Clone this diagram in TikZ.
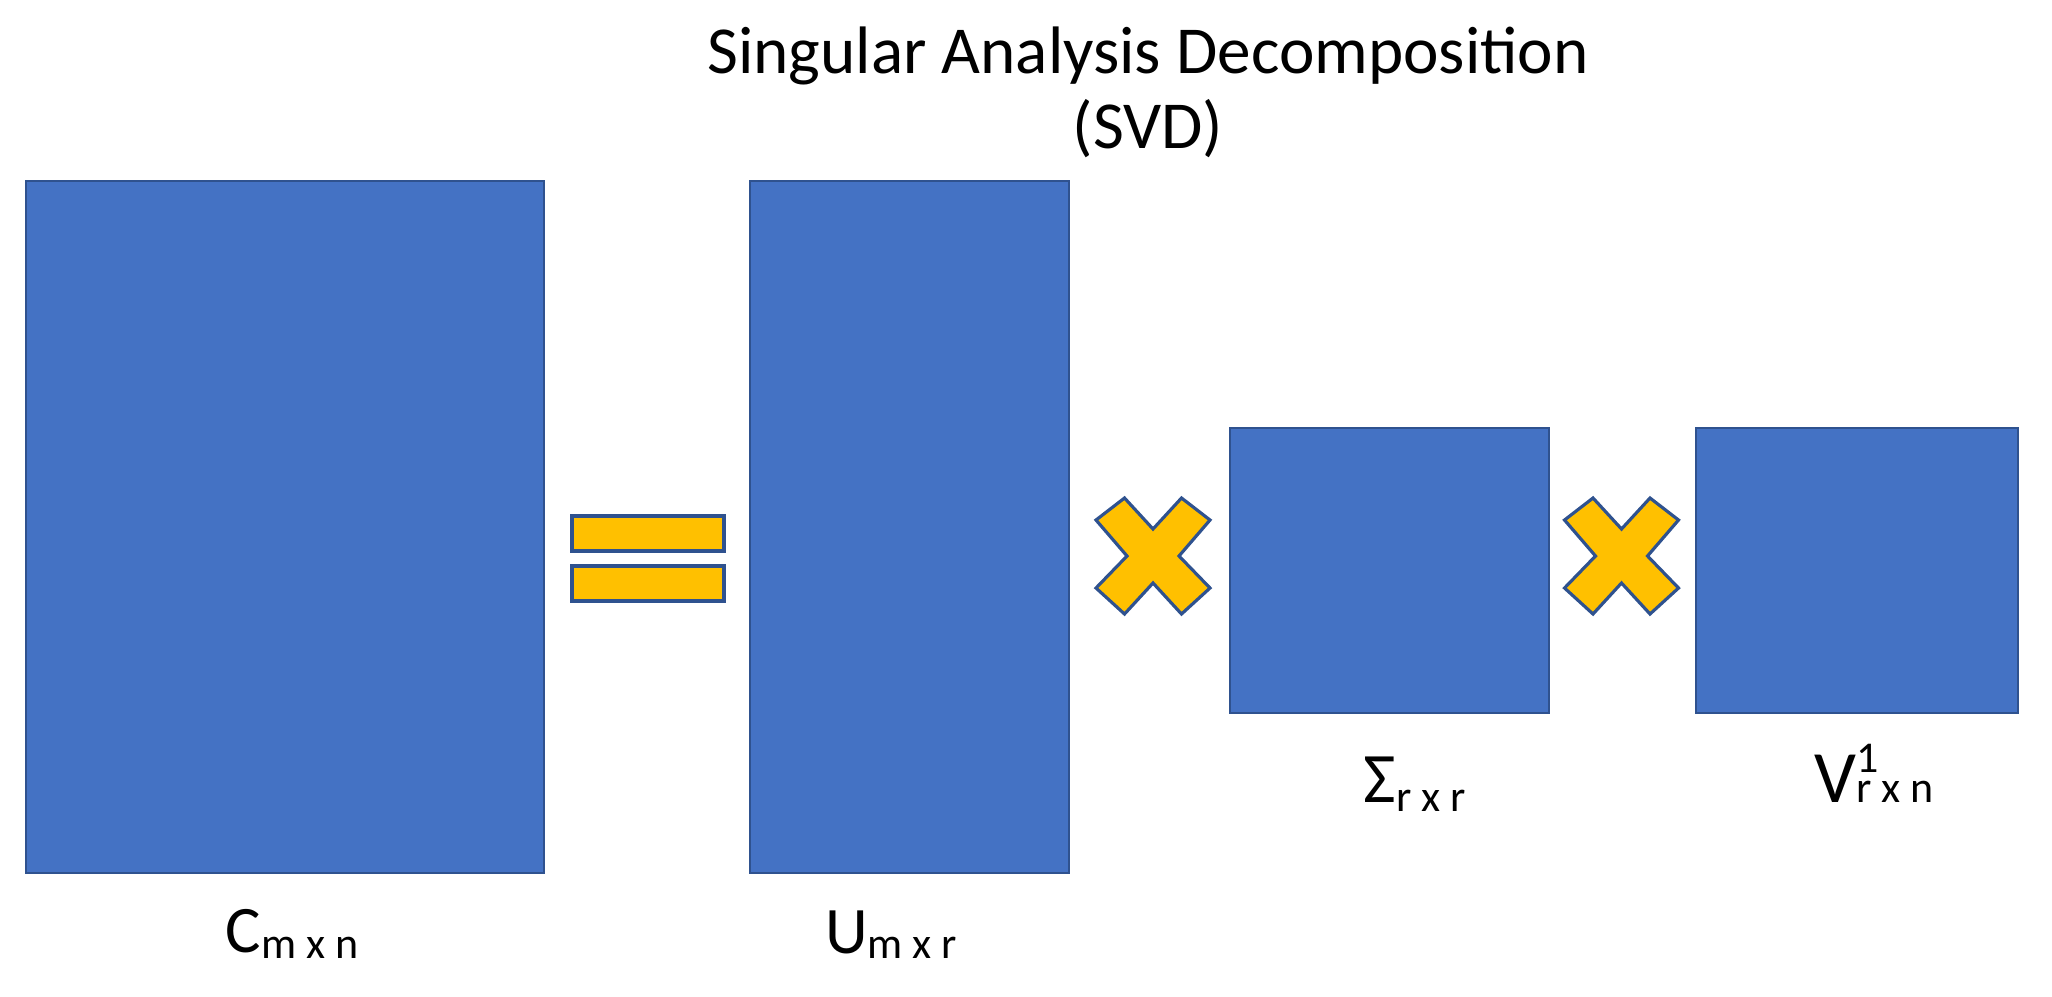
\documentclass[tikz,border=0pt]{standalone}
\usepackage{fontspec}
\setmainfont{Carlito}
\definecolor{BoxBlue}{HTML}{4472C4}
\definecolor{EdgeBlue}{HTML}{2F528F}
\definecolor{Amber}{HTML}{FFC000}
\newcommand{\lsub}[2][1.5pt]{\raisebox{-#1}{\fontsize{12.5}{14}\selectfont #2}}
\newcommand{\lsup}[1]{\raisebox{8.5pt}{\fontsize{12.5}{14}\selectfont #1}}

\begin{document}
\begin{tikzpicture}[x=0.01cm, y=-0.01cm,
  matrixbox/.style={draw=EdgeBlue, fill=BoxBlue, line width=0.5pt, inner sep=0pt},
  opshape/.style={draw=EdgeBlue, fill=Amber, line width=0.9pt, line join=miter},
  titletext/.style={anchor=base, inner sep=0pt, font=\fontsize{19.1}{23}\selectfont},
  dimlabel/.style={anchor=base, inner sep=0pt, font=\fontsize{18.9}{23}\selectfont}]
  \useasboundingbox (0,0) rectangle (2052,996);
  % Title
  \node[titletext] (title) at (1148,73) {Singular Analysis Decomposition};
  \node[titletext] (svd) at (1148,148) {(SVD)};
  % Matrices
  \node[matrixbox, minimum width=5.18cm, minimum height=6.92cm] (C) at (285,527) {};
  \node[matrixbox, minimum width=3.19cm, minimum height=6.92cm] (U) at (909.5,527) {};
  \node[matrixbox, minimum width=3.19cm, minimum height=2.85cm] (S) at (1389.5,570.5) {};
  \node[matrixbox, minimum width=3.22cm, minimum height=2.85cm] (V) at (1857,570.5) {};
  % Equals sign
  \foreach \y in {533.5,583.5}
    \draw[opshape] (572,\y-17.5) rectangle (724,\y+17.5);
  % Times signs
  \foreach \cx in {1153,1621.5}
    \draw[opshape, shift={(\cx,556)}] (0,-27) -- (28.5,-58) -- (57,-36) -- (26,0)
      -- (57,32) -- (28.5,58) -- (0,27) -- (-28.5,58) -- (-57,32) -- (-26,0)
      -- (-57,-36) -- (-28.5,-58) -- cycle;
  % Dimension labels
  \node[dimlabel] (Clab) at (292,952) {C\lsub[1.7pt]{m x n}};
  \node[dimlabel] (Ulab) at (891,953) {U\lsub{m x r}};
  \node[dimlabel, font=\fontsize{20.2}{24}\selectfont] (Slab) at (1415,802) {Σ\lsub[2.8pt]{r x r}};
  \node[dimlabel, font=\fontsize{21}{25}\selectfont] (Vlab) at (1874,802) {V\rlap{\lsup{1}}\lsub[0pt]{r x n}};
\end{tikzpicture}
\end{document}
